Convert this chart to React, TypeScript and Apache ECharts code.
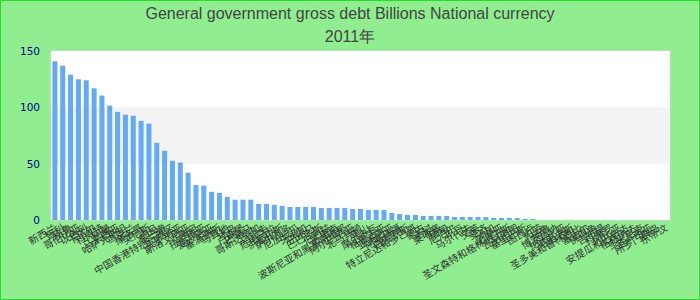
import React, { useEffect, useRef } from "react";
import * as echarts from "echarts";

const titleText = "General government gross debt Billions National currency";
const subTitleText = "2011年";

const categories: string[] = [
  "新西兰", "智利", "秘鲁", "哥伦比亚", "以色列", "卡塔尔", "科威特", "阿曼", "马来西亚", "哈萨克斯坦",
  "乌克兰", "摩洛哥", "突尼斯", "约旦", "黎巴嫩", "中国香港特别行政区", "克罗地亚", "斯洛文尼亚", "立陶宛", "拉脱维亚",
  "爱沙尼亚", "塞浦路斯", "马耳他", "冰岛", "卢森堡", "巴拿马", "哥斯达黎加", "乌拉圭", "危地马拉", "洪都拉斯",
  "萨尔瓦多", "尼加拉瓜", "牙买加", "巴哈马", "巴巴多斯", "伯利兹", "苏里南", "波斯尼亚和黑塞哥维那", "阿尔巴尼亚", "北马其顿",
  "黑山", "摩尔多瓦", "格鲁吉亚", "亚美尼亚", "阿塞拜疆", "白俄罗斯", "特立尼达和多巴哥", "蒙古", "老挝", "柬埔寨",
  "缅甸", "尼泊尔", "不丹", "马尔代夫", "文莱", "斐济", "汤加", "萨摩亚", "圣文森特和格林纳丁斯", "瓦努阿图",
  "基里巴斯", "图瓦卢", "帕劳", "瑙鲁", "博茨瓦纳", "纳米比亚", "毛里求斯", "圣多美和普林西比", "塞舌尔", "佛得角",
  "吉布提", "科摩罗", "冈比亚", "安提瓜和巴布达", "格林纳达", "多米尼克", "圣卢西亚", "所罗门群岛", "东帝汶",
];

const debtValues: number[] = [
  141, 137, 129, 125, 124, 117, 110.5, 101.5, 96, 93.5,
  92.5, 88, 85.5, 68.5, 61.5, 52.5, 51, 42, 31, 30.5,
  25, 24, 20.5, 18, 18, 18, 14.3, 14.3, 13.4, 12.5,
  11.6, 11.6, 11.6, 11.6, 10.7, 10.7, 10.7, 10.7, 9.8, 9.8,
  8.9, 8.9, 8.9, 6.2, 5.3, 4.5, 4.5, 3.6, 3.6, 3.6,
  3.6, 2.7, 2.7, 2.7, 2.7, 2.7, 1.8, 1.8, 1.8, 1.8,
  0.9, 0.9, 0.1, 0.1, 0.1, 0.08, 0.06, 0.05, 0.05, 0.04,
  0.03, 0.03, 0.02, 0.02, 0.01, 0.01, 0.01, 0.01, 0.01,
];

const yTicks = { min: 0, max: 150, interval: 50 };

export default function App() {
  const ref = useRef<HTMLDivElement>(null);
  useEffect(() => {
    if (!ref.current) return;
    const chart = echarts.init(ref.current, undefined, { renderer: "svg" });
    chart.setOption({
      animation: false,
      backgroundColor: "#90EE90",
      title: {
        text: titleText,
        subtext: subTitleText,
        left: "center",
        top: 0,
        itemGap: 7,
        textStyle: { fontSize: 16, fontWeight: "normal", color: "#444", fontFamily: "Liberation Sans" },
        subtextStyle: { fontSize: 16, color: "#444", fontFamily: "Liberation Sans" },
      },
      graphic: [
        {
          type: "rect",
          silent: true,
          z: 100,
          shape: { x: 0.5, y: 0.5, width: 699, height: 299 },
          style: { fill: "none", stroke: "#22e022", lineWidth: 1 },
        },
      ],
      grid: {
        left: 51,
        right: 30,
        top: 51,
        bottom: 80,
        show: true,
        backgroundColor: "#ffffff",
        borderColor: "#d4d4d4",
        borderWidth: 1,
      },
      xAxis: {
        type: "category",
        data: categories,
        axisLine: { show: false },
        axisTick: { show: false },
        axisLabel: {
          interval: 0,
          rotate: 30,
          margin: 6,
          fontSize: 10,
          color: "#333",
          fontFamily: "Noto Sans CJK SC",
        },
      },
      yAxis: {
        type: "value",
        min: yTicks.min,
        max: yTicks.max,
        interval: yTicks.interval,
        axisLine: { show: false },
        axisTick: { show: false },
        splitLine: { show: false },
        splitArea: { show: true, areaStyle: { color: ["#ffffff", "#f3f3f3"] } },
        axisLabel: { color: "#00008b", fontSize: 10.5, margin: 11, fontFamily: "DejaVu Sans" },
      },
      series: [
        {
          type: "bar",
          data: debtValues,
          barCategoryGap: "36%",
          itemStyle: { color: "#63aaf5" },
        },
      ],
    });
    return () => chart.dispose();
  }, []);
  return (
    <div style={{ position: "absolute", left: 0, top: 0, width: 700, height: 300 }}>
      <div ref={ref} style={{ width: 700, height: 300 }} />
    </div>
  );
}
